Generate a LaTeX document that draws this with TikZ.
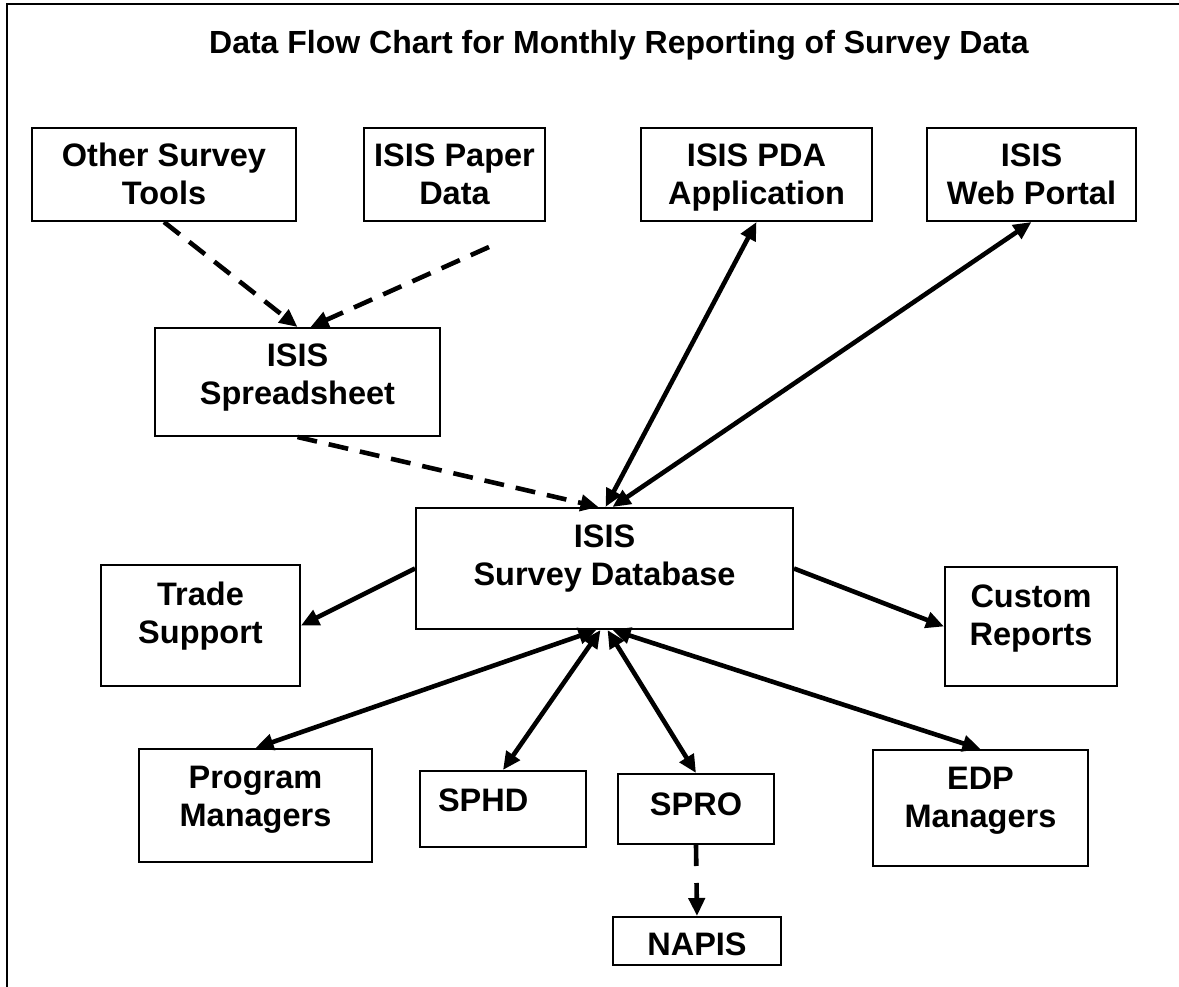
\documentclass[tikz,border=0pt]{standalone}
\usepackage{fontspec}
\setmainfont{Liberation Sans}
\usetikzlibrary{arrows.meta}
\newcommand\bt[4]{\begin{minipage}[c][#2][t]{#1}\centering\rule{0pt}{#3}#4\end{minipage}}
\begin{document}
\begin{tikzpicture}[x=1pt,y=-1pt,
  box/.style={draw, line width=2pt, inner sep=0pt, font=\fontsize{32.5}{38}\selectfont\bfseries},
  conn/.style={line width=4.6pt, -{Triangle[length=18pt,width=16pt]}},
  biconn/.style={line width=4.6pt, {Triangle[length=18pt,width=16pt]}-{Triangle[length=18pt,width=16pt]}},
  dconn/.style={conn, dash pattern=on 20pt off 12pt}]
\useasboundingbox (0,0) rectangle (1179,987);
\draw[line width=2.2pt] (7,987) -- (7,4) -- (1179,4);
\node[font=\fontsize{32}{38}\selectfont\bfseries, anchor=base] (title) at (619,54) {Data Flow Chart for Monthly Reporting of Survey Data};

\node[box] (other) at (164,174.5) {\bt{264pt}{93pt}{39pt}{Other Survey\\Tools}};
\node[box] (paper) at (454.5,174.5) {\bt{181pt}{93pt}{39pt}{ISIS Paper\\Data}};
\node[box] (pda) at (756.5,174.5) {\bt{231pt}{93pt}{39pt}{ISIS PDA\\Application}};
\node[box] (web) at (1031.5,174.5) {\bt{209pt}{93pt}{39pt}{ISIS\\Web Portal}};
\node[box] (sheet) at (297.5,382) {\bt{285pt}{108pt}{38pt}{ISIS\\Spreadsheet}};
\node[box] (db) at (604.5,568.5) {\bt{377pt}{121pt}{39pt}{ISIS\\Survey Database}};
\node[box] (trade) at (200.5,625.5) {\bt{199pt}{121pt}{40pt}{Trade\\Support}};
\node[box] (custom) at (1031,626.5) {\bt{172pt}{119pt}{40pt}{Custom\\Reports}};
\node[box] (prog) at (255.5,805.5) {\bt{233pt}{113pt}{39pt}{Program\\Managers}};
\node[box] (sphd) at (503,809) {\begin{minipage}[c][76pt][t]{166pt}\rule{0pt}{40pt}\hspace*{18pt}SPHD\end{minipage}};
\node[box] (spro) at (696,809) {\bt{156pt}{70pt}{41pt}{SPRO}};
\node[box] (edp) at (980.5,808) {\bt{215pt}{116pt}{39pt}{EDP\\Managers}};
\node[box] (napis) at (697,941) {\bt{168pt}{48pt}{38pt}{NAPIS}};

\coordinate (pstart) at (489,247);

\draw[dconn] (other.south) -- (sheet.north);
\draw[dconn] (pstart) -- ([xshift=13pt]sheet.north);
\draw[dconn] (sheet.south) -- ([xshift=-6pt]db.north);
\draw[biconn] ([xshift=1pt]db.north) -- (pda.south);
\draw[biconn] ([xshift=8pt]db.north) -- (web.south);
\draw[conn] (db.west) -- (trade.east);
\draw[conn] (db.east) -- (custom.west);
\draw[biconn] ([xshift=-8pt]db.south) -- (prog.north);
\draw[biconn] ([xshift=-4pt]db.south) -- (sphd.north);
\draw[biconn] ([xshift=3pt]db.south) -- (spro.north);
\draw[biconn] ([xshift=8pt]db.south) -- (edp.north);
\draw[conn, dash pattern=on 21pt off 17pt] (spro.south) -- (napis.north);
\end{tikzpicture}
\end{document}
